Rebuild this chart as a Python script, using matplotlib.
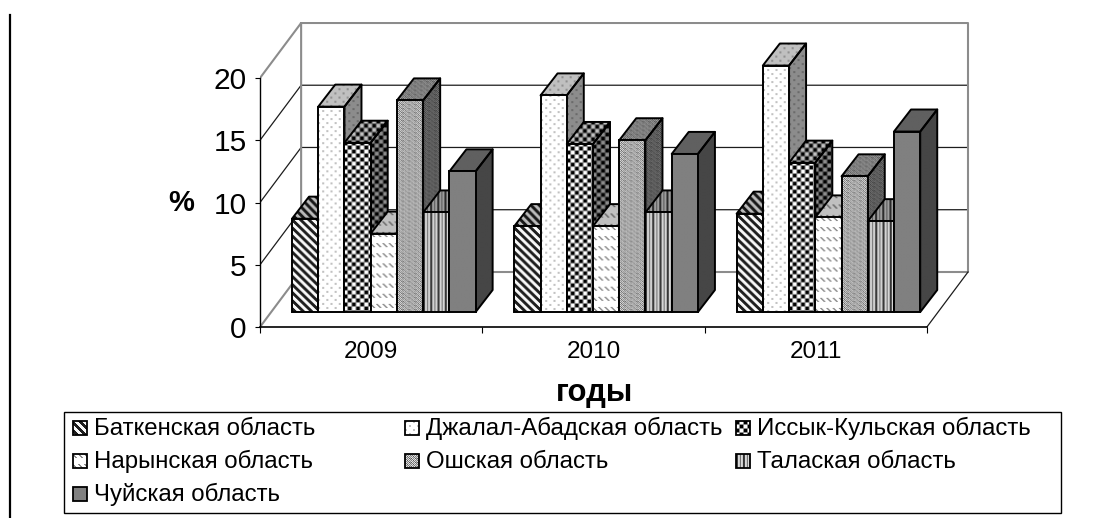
import numpy as np
import matplotlib
matplotlib.use("Agg")
import matplotlib.pyplot as plt
from matplotlib.patches import Polygon, Rectangle

plt.rcParams['font.family'] = ['Liberation Sans', 'DejaVu Sans']

# Data
years = ['2009', '2010', '2011']
regions = ['Баткенская область', 'Джалал-Абадская область', 'Иссык-Кульская область',
           'Нарынская область', 'Ошская область', 'Талаская область', 'Чуйская область']
batken = [7.5, 6.9, 7.9]
jalal = [16.5, 17.4, 19.8]
issyk = [13.6, 13.5, 12.0]
naryn = [6.3, 6.9, 7.6]
osh = [17.0, 13.8, 10.9]
talas = [8.0, 8.0, 7.3]
chui = [11.3, 12.7, 14.5]
series = [batken, jalal, issyk, naryn, osh, talas, chui]

# Pixel scale of the axes
PX_X = 222.3
PX_Y = 12.45
DEPTH_X, DEPTH_Y = 0.185, 4.42   # wall depth
BAR_DX, BAR_DY = 0.0765, 1.77    # bar depth
FLOOR = 1.2                      # bars stand a bit behind the front edge
GROUP_START = 0.144
BAR_W = 0.118
TOP_SHADE = 0.75
SIDE_SHADE = 0.55


# Fill textures, one small tile per series
def make_tiles():
    i, j = np.mgrid[0:8, 0:8]
    t_batken = np.where((i - j) % 8 < 4, 0.12, 0.97)

    t_jalal = np.ones((8, 8))
    t_jalal[0:2, 0:2] = 0.76
    t_jalal[4:6, 4:6] = 0.76

    t_issyk = np.full((8, 8), 0.55)
    t_issyk[0:3, 0:3] = 0.0
    t_issyk[4:7, 4:7] = 0.0
    t_issyk[0:3, 4:7] = 1.0
    t_issyk[4:7, 0:3] = 1.0

    i, j = np.mgrid[0:10, 0:6]
    t_naryn = np.where(((i - j) % 6 < 2) & (i % 10 < 4), 0.55, 1.0)

    t_osh = np.array([[.35, .9, .5, .9, .35, .7],
                      [.8, .45, .85, .55, .9, .45],
                      [.5, .9, .35, .9, .5, .8],
                      [.9, .55, .8, .45, .85, .55]])

    t_talas = np.array([[0.2, 0.25, 0.85, 0.8, 0.45, 0.85, 0.8]])
    t_chui = np.array([[0.5]])
    return [t_batken, t_jalal, t_issyk, t_naryn, t_osh, t_talas, t_chui]


tiles = make_tiles()


def textured(ax, patch, tile, shade, zorder):
    # lay a repeated tile over the bounding box of the patch and clip it
    xy = patch.get_path().vertices
    xy = patch.get_patch_transform().transform(xy)
    x0, y0 = xy.min(axis=0)
    x1, y1 = xy.max(axis=0)
    w = max(int((x1 - x0) * PX_X), 1)
    h = max(int((y1 - y0) * PX_Y), 1)
    rep = (h // tile.shape[0] + 1, w // tile.shape[1] + 1)
    arr = np.tile(tile, rep)[:h, :w] * shade
    im = ax.imshow(arr, extent=(x0, x1, y0, y1), origin='upper', cmap='gray', vmin=0, vmax=1,
                   aspect='auto', interpolation='bilinear', zorder=zorder)
    im.set_clip_path(patch)


fig = plt.figure(figsize=(11.07, 5.18), dpi=100)

# Background layer in pixel coordinates: left rule and legend
bg = fig.add_axes([0, 0, 1, 1])
bg.set_xlim(0, 1107)
bg.set_ylim(518, 0)
bg.axis('off')
bg.plot([9.5, 9.5], [15, 518], color='black', lw=1.6)
bg.add_patch(Rectangle((64, 412), 997, 101, fill=False, ec='black', lw=1))

legend_x = [73, 405, 736]
legend_y = [428, 461, 494]
for n, name in enumerate(regions):
    lx = legend_x[n % 3]
    ly = legend_y[n // 3]
    box = Rectangle((lx, ly - 7), 14, 14, fc='none', ec='black', lw=1.3, zorder=3)
    bg.add_patch(box)
    arr = np.tile(tiles[n], (14, 14))[:14, :14]
    bg.imshow(arr, extent=(lx, lx + 14, ly + 7, ly - 7), cmap='gray', vmin=0, vmax=1,
              aspect='auto', interpolation='bilinear', zorder=2)
    bg.text(lx + 21, ly + 7, name, fontsize=17.3, va='baseline', ha='left', color='black')
bg.set_xlim(0, 1107)
bg.set_ylim(518, 0)

# Main axes
ax = fig.add_axes([260 / 1107, (518 - 327) / 518, 3.2 * PX_X / 1107, 24.5 * PX_Y / 518])
ax.patch.set_visible(False)
GRAY = '#8c8c8c'
LINE = '#1c1c1c'

# Walls and gridlines
for v in [5, 10, 15]:
    ax.plot([0, DEPTH_X, 3 + DEPTH_X], [v, v + DEPTH_Y, v + DEPTH_Y], color=LINE, lw=0.9, zorder=1)
ax.plot([0, DEPTH_X, DEPTH_X], [20, 20 + DEPTH_Y, DEPTH_Y], color=GRAY, lw=1.5, zorder=1)
ax.plot([DEPTH_X, 3 + DEPTH_X, 3 + DEPTH_X, DEPTH_X], [20 + DEPTH_Y, 20 + DEPTH_Y, DEPTH_Y, DEPTH_Y],
        color=GRAY, lw=1.5, zorder=1)
ax.plot([0, DEPTH_X], [0, DEPTH_Y], color=GRAY, lw=1.5, zorder=1)
ax.plot([3, 3 + DEPTH_X], [0, DEPTH_Y], color=LINE, lw=0.9, zorder=1)

# Bars, left to right so that each one covers the side of the previous one
z = 2
for g in range(len(years)):
    for s, values in enumerate(series):
        v = values[g]
        x0 = g + GROUP_START + s * BAR_W
        x1 = x0 + BAR_W
        top = FLOOR + v
        side = Polygon([(x1, FLOOR), (x1 + BAR_DX, FLOOR + BAR_DY), (x1 + BAR_DX, top + BAR_DY), (x1, top)],
                       closed=True, fc='none', ec='black', lw=1.4, joinstyle='round', zorder=z + 1)
        cap = Polygon([(x0, top), (x0 + BAR_DX, top + BAR_DY), (x1 + BAR_DX, top + BAR_DY), (x1, top)],
                      closed=True, fc='none', ec='black', lw=1.4, joinstyle='round', zorder=z + 1)
        ax.add_patch(side)
        ax.add_patch(cap)
        textured(ax, side, tiles[s], SIDE_SHADE, z)
        textured(ax, cap, tiles[s], TOP_SHADE, z)
        z += 2
        front = ax.bar(x0, v, BAR_W, bottom=FLOOR, align='edge', fc='none', ec='black', lw=1.4, zorder=z + 1)[0]
        textured(ax, front, tiles[s], 1.0, z)
        z += 2

ax.set_xlim(0, 3.2)
ax.set_ylim(0, 24.5)

for name in ['top', 'right']:
    ax.spines[name].set_visible(False)
ax.spines['left'].set_bounds(0, 20)
ax.spines['bottom'].set_bounds(0, 3)
ax.spines['left'].set_linewidth(1)
ax.spines['bottom'].set_linewidth(1.2)

ax.set_yticks([0, 5, 10, 15, 20])
ax.tick_params(axis='y', labelsize=21.5, length=3.5, width=0.8, pad=6)
ax.set_xticks([0, 1, 2, 3])
ax.set_xticklabels([])
ax.tick_params(axis='x', which='major', length=4.5, width=0.8)
ax.set_xticks([0.5, 1.5, 2.5], minor=True)
ax.set_xticklabels(years, minor=True, fontsize=17.5)
ax.tick_params(axis='x', which='minor', length=0, pad=10)

ax_w = 3.2 * PX_X
ax_h = 24.5 * PX_Y
ax.set_ylabel('%', rotation=0, fontsize=21, fontweight='bold', ha='center', va='center')
ax.yaxis.set_label_coords((181 - 260) / ax_w, (327 - 203) / ax_h)
ax.set_xlabel('годы', fontsize=22.3, fontweight='bold', ha='center', va='center')
ax.xaxis.set_label_coords((594 - 260) / ax_w, (327 - 393) / ax_h)

fig.savefig('out.png', dpi=100)
